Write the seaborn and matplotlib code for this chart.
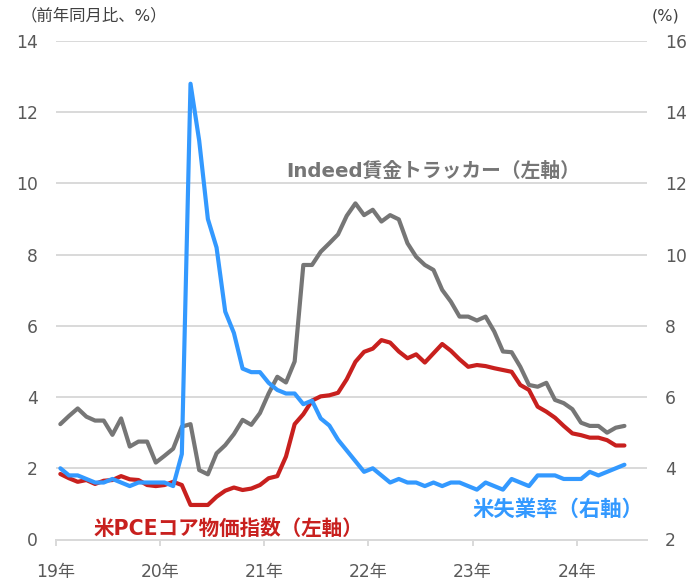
import numpy as np
import pandas as pd
import matplotlib
matplotlib.use("Agg")
import matplotlib.pyplot as plt
import seaborn as sns

# monthly data, Jan 2019 - Jun 2024
# Indeed wage tracker, % y/y (left axis)
indeed = [3.24, 3.47, 3.68, 3.45, 3.34, 3.34, 2.94, 3.40, 2.61, 2.75, 2.75, 2.16,
          2.35, 2.55, 3.17, 3.24, 1.95, 1.83, 2.42, 2.65, 2.96, 3.36, 3.22, 3.55,
          4.10, 4.57, 4.41, 5.00, 7.71, 7.71, 8.08, 8.32, 8.57, 9.09, 9.44, 9.11,
          9.26, 8.93, 9.11, 8.99, 8.32, 7.94, 7.71, 7.57, 7.01, 6.68, 6.26, 6.26,
          6.15, 6.26, 5.84, 5.28, 5.26, 4.85, 4.34, 4.29, 4.40, 3.92, 3.83, 3.66,
          3.28, 3.19, 3.19, 3.00, 3.14, 3.19]

# core PCE, % y/y (left axis)
pce = [1.84, 1.72, 1.62, 1.67, 1.56, 1.65, 1.67, 1.78, 1.69, 1.67, 1.53, 1.50,
       1.53, 1.62, 1.53, 0.97, 0.97, 0.97, 1.20, 1.37, 1.46, 1.39, 1.43, 1.53,
       1.72, 1.78, 2.33, 3.24, 3.52, 3.90, 4.02, 4.05, 4.12, 4.50, 4.99, 5.27,
       5.36, 5.60, 5.53, 5.28, 5.09, 5.20, 4.97, 5.23, 5.49, 5.30, 5.06, 4.85,
       4.90, 4.87, 4.81, 4.76, 4.71, 4.34, 4.20, 3.73, 3.59, 3.42, 3.19, 2.98,
       2.93, 2.86, 2.86, 2.79, 2.64, 2.64]

# unemployment rate, % (right axis)
unemp = [4.0, 3.8, 3.8, 3.7, 3.6, 3.6, 3.7, 3.6, 3.5, 3.6, 3.6, 3.6,
         3.6, 3.5, 4.4, 14.8, 13.2, 11.0, 10.2, 8.4, 7.8, 6.8, 6.7, 6.7,
         6.4, 6.2, 6.1, 6.1, 5.8, 5.9, 5.4, 5.2, 4.8, 4.5, 4.2, 3.9,
         4.0, 3.8, 3.6, 3.7, 3.6, 3.6, 3.5, 3.6, 3.5, 3.6, 3.6, 3.5,
         3.4, 3.6, 3.5, 3.4, 3.7, 3.6, 3.5, 3.8, 3.8, 3.8, 3.7, 3.7,
         3.7, 3.9, 3.8, 3.9, 4.0, 4.1]

year_labels = ["19年", "20年", "21年", "22年", "23年", "24年"]

df = pd.DataFrame({"month": np.arange(len(indeed)),
                   "indeed": indeed, "pce": pce, "unemp": unemp})

sns.set_style("white")
plt.rcParams["font.family"] = ["DejaVu Sans", "Noto Sans CJK JP"]
plt.rcParams["lines.solid_joinstyle"] = "round"
plt.rcParams["lines.solid_capstyle"] = "round"

GRAY = "#767676"
RED = "#C8201E"
BLUE = "#3399FF"
GRID = "#D9D9D9"
TXT = "#595959"

W, H = 699, 582
fig = plt.figure(figsize=(W / 100, H / 100), dpi=100)
ax = fig.add_axes([56 / W, 1 - 539.5 / H, (647 - 56) / W, (539.5 - 41) / H])
ax2 = ax.twinx()

sns.lineplot(data=df, x="month", y="indeed", ax=ax, color=GRAY, linewidth=3)
sns.lineplot(data=df, x="month", y="pce", ax=ax, color=RED, linewidth=3)
sns.lineplot(data=df, x="month", y="unemp", ax=ax2, color=BLUE, linewidth=3)

ax.set_xlim(-0.5, 67.6)
ax.set_ylim(0, 14)
ax2.set_ylim(2, 16)
ax.set_yticks(range(0, 15, 2))
ax2.set_yticks(range(2, 17, 2))
ax.set_xticks([-0.5 + 12 * k for k in range(len(year_labels))])
ax.set_xticklabels(year_labels)

ax.grid(axis="y", color=GRID, linewidth=1.4)
ax.set_axisbelow(True)
for a in (ax, ax2):
    a.set_xlabel("")
    a.set_ylabel("")
    for s in ("top", "left", "right"):
        a.spines[s].set_visible(False)
    a.spines["bottom"].set_color(GRID)
    a.spines["bottom"].set_linewidth(1.4)

ax.tick_params(axis="x", bottom=True, length=4, width=1.4, color=GRID,
               labelsize=12.3, labelcolor=TXT, pad=13)
ax.tick_params(axis="y", length=0, labelsize=12.3, labelcolor=TXT, pad=13)
ax2.tick_params(axis="y", length=0, labelsize=12.3, labelcolor=TXT, pad=13)

fig.text(20.5 / W, 1 - 16 / H, "（前年同月比、%）", fontsize=11.8,
         color="#404040", ha="left", va="center")
fig.text(652 / W, 1 - 16 / H, "(%)", fontsize=11.5,
         color="#404040", ha="left", va="center")

fig.text(286 / W, 1 - 171 / H, "Indeed賃金トラッカー（左軸）", fontsize=14.2,
         fontweight="bold", color=GRAY, ha="left", va="center")
fig.text(94 / W, 1 - 529 / H, "米PCEコア物価指数（左軸）", fontsize=14.8,
         fontweight="bold", color=RED, ha="left", va="center")
fig.text(472 / W, 1 - 510 / H, "米失業率（右軸）", fontsize=15.4,
         fontweight="bold", color=BLUE, ha="left", va="center")

fig.savefig("out.png", dpi=100)
